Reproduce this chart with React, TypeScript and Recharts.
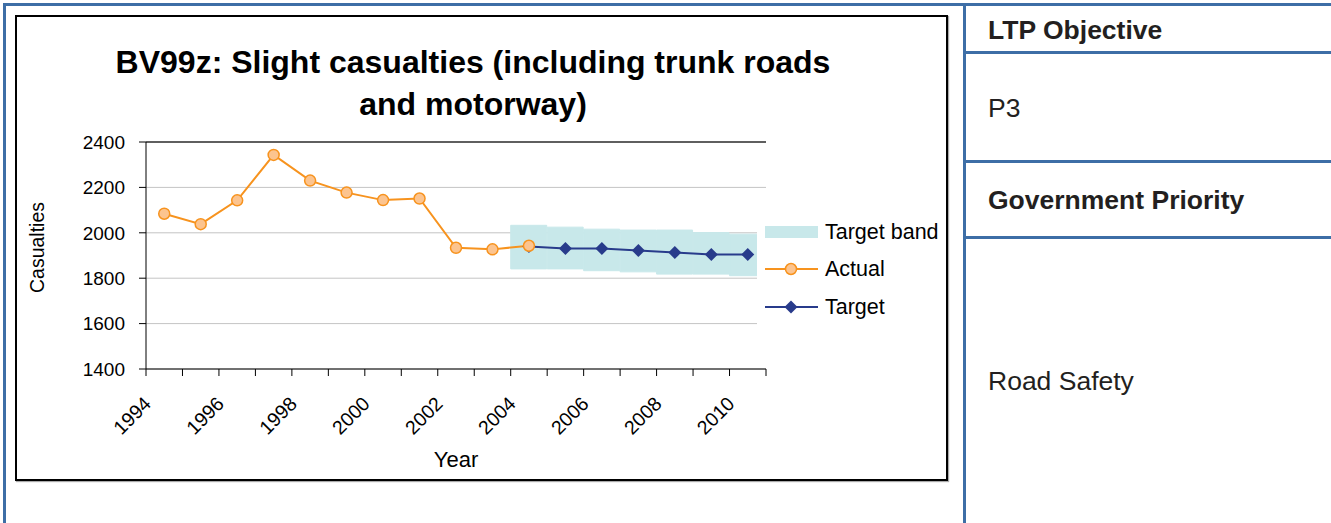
import {
    ComposedChart, Bar, Line, XAxis, YAxis, CartesianGrid, Legend, ReferenceLine
} from "recharts"

const years = ["1994", "1995", "1996", "1997", "1998", "1999", "2000", "2001", "2002",
    "2003", "2004", "2005", "2006", "2007", "2008", "2009", "2010"]
const actual = [2084, 2038, 2143, 2343, 2230, 2177, 2144, 2151, 1934, 1927, 1943,
    null, null, null, null, null, null]
const target = [null, null, null, null, null, null, null, null, null, null,
    1940, 1931, 1931, 1922, 1913, 1904, 1904]
const bandLow = [null, null, null, null, null, null, null, null, null, null,
    1841, 1841, 1833, 1828, 1818, 1818, 1811]
const bandHigh = [null, null, null, null, null, null, null, null, null, null,
    2033, 2025, 2016, 2012, 2012, 2001, 1994]
const yTicks = [1400, 1600, 1800, 2000, 2200, 2400]

const data = years.map((year, i) => ({
    year,
    actual: actual[i],
    target: target[i],
    band: bandLow[i] != null ? [bandLow[i], bandHigh[i]] : null,
}))

const FONT = "'Liberation Sans', Arial, sans-serif"
const BLUE = "#3d6ea6"
const ORANGE = "#f7931e"
const PEACH = "#fcc48f"
const NAVY = "#283b8b"
const BAND = "#c8e8ea"

const CHART_W = 929
const CHART_H = 462
const PLOT_W = 620
const bandW = PLOT_W / years.length

function XTick(props: any) {
    const { x, y, payload, index } = props
    const left = x - bandW / 2
    return (
        <g>
            <line x1={left} y1={y - 7} x2={left} y2={y} stroke="#000" />
            {index === years.length - 1 && (
                <line x1={x + bandW / 2} y1={y - 7} x2={x + bandW / 2} y2={y} stroke="#000" />
            )}
            {index % 2 === 0 && (
                <text x={x - 12} y={y + 29} textAnchor="end" fontSize={19.5} fill="#000"
                    fontFamily={FONT} transform={`rotate(-45 ${x - 12} ${y + 29})`}>
                    {payload.value}
                </text>
            )}
        </g>
    )
}

function Diamond(props: any) {
    const { cx, cy } = props
    if (cx == null || cy == null) return <g />
    const s = 6.5
    return <polygon points={`${cx},${cy - s} ${cx + s},${cy} ${cx},${cy + s} ${cx - s},${cy}`} fill={NAVY} />
}

function YLabel(props: any) {
    const { viewBox } = props
    const x = viewBox.x + 20
    const y = viewBox.y + viewBox.height / 2 - 8
    return (
        <text x={x} y={y} textAnchor="middle" dominantBaseline="central" fontSize={19.5}
            fontFamily={FONT} fill="#000" transform={`rotate(-90 ${x} ${y})`}>
            Casualties
        </text>
    )
}

function LegendBox() {
    const row = (y: number, mark: any, label: string) => (
        <div style={{ position: "absolute", left: 0, top: y - 15, height: 30, width: "100%" }}>
            <svg width={62} height={30} style={{ position: "absolute", left: 0, top: 0 }}>{mark}</svg>
            <span style={{ position: "absolute", left: 68, top: 0, lineHeight: "30px", fontSize: 21.5, color: "#000", whiteSpace: "nowrap" }}>
                {label}
            </span>
        </div>
    )
    return (
        <div style={{ position: "relative", width: 188, height: 119, background: "#fff", fontFamily: FONT }}>
            {row(24, <rect x={8} y={9} width={53} height={12} fill={BAND} />, "Target band")}
            {row(61, <g>
                <line x1={8} y1={15} x2={61} y2={15} stroke={ORANGE} strokeWidth={2} />
                <circle cx={34} cy={15} r={5.5} fill={PEACH} stroke={ORANGE} strokeWidth={1.5} />
            </g>, "Actual")}
            {row(99, <g>
                <line x1={8} y1={15} x2={61} y2={15} stroke={NAVY} strokeWidth={2} />
                <Diamond cx={34} cy={15} />
            </g>, "Target")}
        </div>
    )
}

const cellText = (top: number, text: string, bold: boolean) => (
    <div style={{ position: "absolute", left: 988, top: top - 15, lineHeight: "30px", fontSize: 26.5, fontWeight: bold ? 700 : 400, color: "#231f20", whiteSpace: "nowrap" }}>
        {text}
    </div>
)

export default function App() {
    return (
        <div style={{ position: "fixed", left: 0, top: 0, width: 1331, height: 523, background: "#fff", overflow: "hidden", fontFamily: FONT }}>
            <div style={{ position: "absolute", left: 3, top: 3, width: 1328, height: 3, background: BLUE }} />
            <div style={{ position: "absolute", left: 3, top: 3, width: 3, height: 520, background: BLUE }} />
            <div style={{ position: "absolute", left: 963, top: 3, width: 3, height: 520, background: BLUE }} />
            <div style={{ position: "absolute", left: 963, top: 51, width: 368, height: 3, background: BLUE }} />
            <div style={{ position: "absolute", left: 963, top: 160, width: 368, height: 3, background: BLUE }} />
            <div style={{ position: "absolute", left: 963, top: 236, width: 368, height: 3, background: BLUE }} />
            {cellText(30, "LTP Objective", true)}
            {cellText(108, "P3", false)}
            {cellText(200, "Government Priority", true)}
            {cellText(381, "Road Safety", false)}

            <div style={{ position: "absolute", left: 15, top: 15, width: 933, height: 466, border: "2px solid #000", boxSizing: "border-box", boxShadow: "1px 1px 1px #aaa", background: "#fff" }}>
                <div style={{ position: "absolute", left: 0, top: 24, width: 912, textAlign: "center", fontSize: 32, fontWeight: 700, lineHeight: "42px", color: "#000" }}>
                    BV99z: Slight casualties (including trunk roads<br />and motorway)
                </div>
                <ComposedChart width={CHART_W} height={CHART_H} data={data} barCategoryGap={0}
                    margin={{ top: 125, right: 180, bottom: 0, left: 0 }}>
                    <CartesianGrid vertical={false} stroke="#c4c4c4" />
                    <XAxis dataKey="year" interval={0} height={110} tickSize={7} tickMargin={0}
                        tickLine={false} axisLine={{ stroke: "#000" }} tick={(p: any) => <XTick {...p} />}
                        label={{ value: "Year", position: "insideBottom", offset: 12, fontSize: 22, fill: "#000", fontFamily: FONT }} />
                    <YAxis domain={[1400, 2400]} ticks={yTicks} width={129} tickSize={7} tickMargin={14}
                        axisLine={{ stroke: "#000" }} tickLine={{ stroke: "#000" }}
                        tick={{ fontSize: 19, fill: "#000", fontFamily: FONT }} label={(p: any) => <YLabel {...p} />} />
                    <YAxis yAxisId="r" orientation="right" domain={[1400, 2400]} width={0}
                        tick={false} tickLine={false} axisLine={{ stroke: "#000" }} />
                    <ReferenceLine y={2400} stroke="#333" strokeWidth={1.5} />
                    <Bar dataKey="band" fill={BAND} stroke={BAND} strokeWidth={1} isAnimationActive={false} legendType="none" />
                    <Line dataKey="target" stroke={NAVY} strokeWidth={2} dot={(p: any) => <Diamond key={p.index} {...p} />}
                        activeDot={false} isAnimationActive={false} />
                    <Line dataKey="actual" stroke={ORANGE} strokeWidth={2}
                        dot={{ r: 5.5, fill: PEACH, stroke: ORANGE, strokeWidth: 1.5 }}
                        activeDot={false} isAnimationActive={false} />
                    <Legend layout="vertical" align="center" verticalAlign="middle"
                        wrapperStyle={{ left: 740, top: 191, width: 188, height: 119 }} content={() => <LegendBox />} />
                </ComposedChart>
            </div>
        </div>
    )
}
